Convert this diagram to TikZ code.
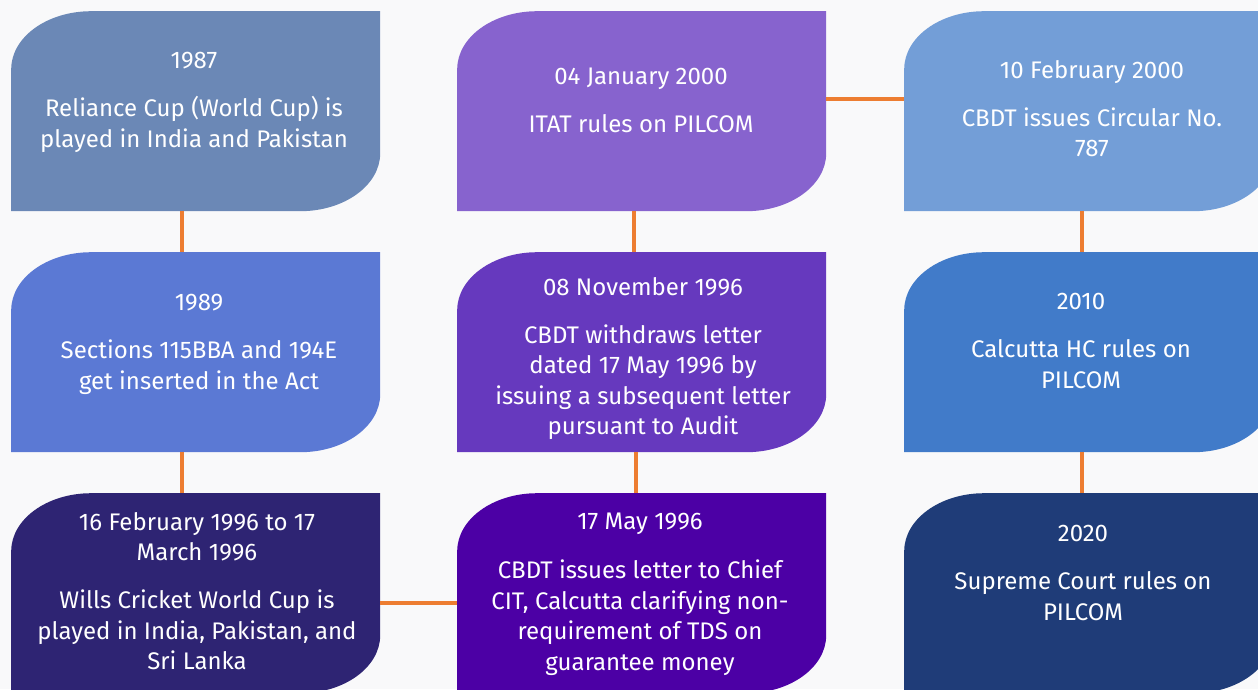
\documentclass[tikz,border=0pt]{standalone}
\usepackage{fontspec}
\setmainfont{Fira Sans}
\usepackage{tikz}

\definecolor{paper}{HTML}{F9F9FA}
\definecolor{tieorange}{HTML}{ED7D31}
\definecolor{slateblue}{HTML}{6B88B6}
\definecolor{lavender}{HTML}{8763CE}
\definecolor{skyblue}{HTML}{739ED7}
\definecolor{cornblue}{HTML}{5B79D4}
\definecolor{deepviolet}{HTML}{6639BE}
\definecolor{royalblue}{HTML}{417BC9}
\definecolor{midnight}{HTML}{2E2473}
\definecolor{indigoish}{HTML}{4C00A5}
\definecolor{navyblue}{HTML}{1F3C78}

\begin{document}
\begin{tikzpicture}[x=1pt,y=-1pt]
        \tikzstyle{caption}=[text=white,align=center,anchor=north,inner sep=0pt,
            font=\fontsize{24}{30.5}\selectfont]
        \tikzstyle{tie}=[tieorange,line width=4pt]
        \tikzset{event/.style={minimum width=369pt,minimum height=200pt,inner sep=0pt,
            anchor=north west,
            path picture={\fill[#1]
                ([yshift=-58pt]path picture bounding box.north west)
                arc[start angle=180,end angle=90,x radius=80pt,y radius=58pt]
                -- (path picture bounding box.north east)
                -- ([yshift=58pt]path picture bounding box.south east)
                arc[start angle=0,end angle=-90,x radius=80pt,y radius=58pt]
                -- (path picture bounding box.south west) -- cycle;}}}

        \fill[paper] (0,0) rectangle (1258,689);
        \useasboundingbox (0,0) rectangle (1258,689);
        \clip (0,0) rectangle (1258,689);

        % boxes, three rows of three
        \node[event=slateblue] (y1987) at (11,11) {};
        \node[event=lavender] (jan2000) at (457,11) {};
        \node[event=skyblue] (feb2000) at (904,11) {};
        \node[event=cornblue] (y1989) at (11,252) {};
        \node[event=deepviolet] (nov1996) at (457,252) {};
        \node[event=royalblue] (y2010) at (904,252) {};
        \node[event=midnight] (feb1996) at (11,493) {};
        \node[event=indigoish] (may1996) at (457,493) {};
        \node[event=navyblue] (y2020) at (904,493) {};

        % texts
        \node[caption] (y1987 text) at (194,52) {1987\\[17.5pt]
            Reliance Cup (World Cup) is\\ played in India and Pakistan};
        \node[caption] (jan2000 text) at (641,68) {04 January 2000\\[17.5pt]
            ITAT rules on PILCOM};
        \node[caption] (feb2000 text) at (1092,60) {10 February 2000\\[17.5pt]
            CBDT issues Circular No.\\ 787};
        \node[caption] (y1989 text) at (199,294) {1989\\[17.5pt]
            Sections 115BBA and 194E\\ get inserted in the Act};
        \node[caption] (nov1996 text) at (643,277) {08 November 1996\\[17.5pt]
            CBDT withdraws letter\\ dated 17 May 1996 by\\
            issuing a subsequent letter\\ pursuant to Audit};
        \node[caption] (y2010 text) at (1081,293) {2010\\[17.5pt]
            Calcutta HC rules on\\ PILCOM};
        \node[caption] (feb1996 text) at (197,512) {16 February 1996 to 17\\ March 1996\\[17.5pt]
            Wills Cricket World Cup is\\ played in India, Pakistan, and\\ Sri Lanka};
        \node[caption] (may1996 text) at (640,513) {17 May 1996\\[18.5pt]
            CBDT issues letter to Chief\\ CIT, Calcutta clarifying non-\\
            requirement of TDS on\\ guarantee money};
        \node[caption] (y2020 text) at (1083,525) {2020\\[17.5pt]
            Supreme Court rules on\\ PILCOM};

        % orange ties
        \draw[tie] ([xshift=-13.5pt]y1987.south) -- ([xshift=-13.5pt]y1989.north);
        \draw[tie] ([xshift=-13.5pt]y1989.south) -- ([xshift=-13.5pt]feb1996.north);
        \draw[tie] ([yshift=-10pt]feb1996.east) -- ([yshift=-10pt]may1996.west);
        \draw[tie] ([xshift=-5.5pt]may1996.north) -- ([xshift=-5.5pt]nov1996.south);
        \draw[tie] ([xshift=-7.5pt]nov1996.north) -- ([xshift=-7.5pt]jan2000.south);
        \draw[tie] ([yshift=12pt]jan2000.east) -- ([yshift=12pt]feb2000.west);
        \draw[tie] ([xshift=-6.5pt]feb2000.south) -- ([xshift=-6.5pt]y2010.north);
        \draw[tie] ([xshift=-6.5pt]y2010.south) -- ([xshift=-6.5pt]y2020.north);
    \end{tikzpicture}
\end{document}
